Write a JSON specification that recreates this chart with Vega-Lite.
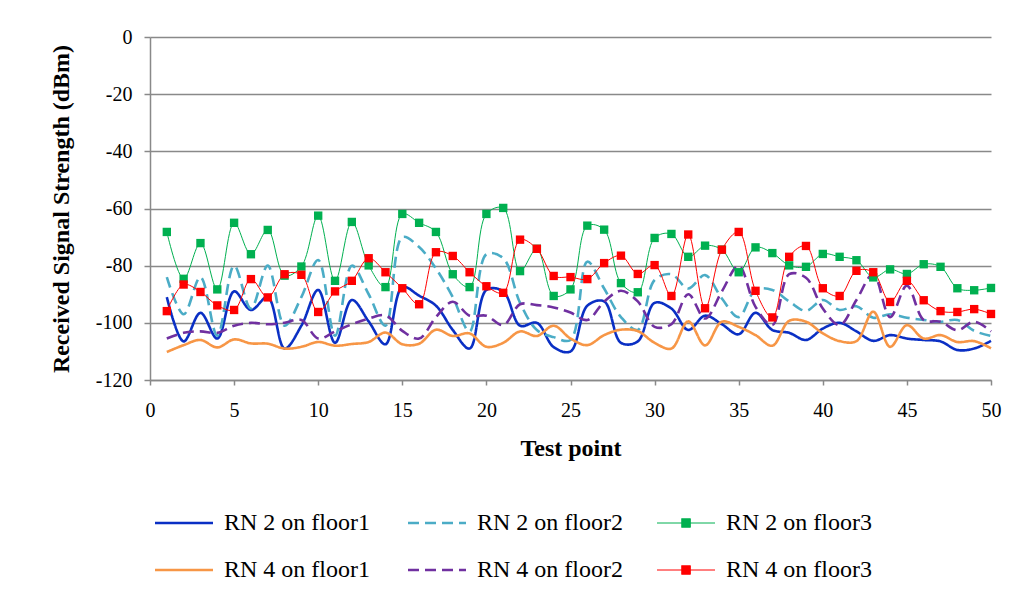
{
"$schema": "https://vega.github.io/schema/vega-lite/v6.json",
"autosize": "none",
"width": 841,
"height": 343,
"padding": {"left": 150, "top": 37, "right": 36, "bottom": 220},
"background": "white",
"config": {"view": {"stroke": null}, "font": "Liberation Serif", "axis": {"labelFont": "Liberation Serif", "titleFont": "Liberation Serif"}, "legend": {"labelFont": "Liberation Serif"}},
"datasets": {"d": [
{"x":1,"s":"RN 2 on floor1","v":-91},{"x":2,"s":"RN 2 on floor1","v":-106.5},{"x":3,"s":"RN 2 on floor1","v":-96.5},{"x":4,"s":"RN 2 on floor1","v":-105.5},{"x":5,"s":"RN 2 on floor1","v":-89},{"x":6,"s":"RN 2 on floor1","v":-95.5},{"x":7,"s":"RN 2 on floor1","v":-91},{"x":8,"s":"RN 2 on floor1","v":-109},{"x":9,"s":"RN 2 on floor1","v":-101},{"x":10,"s":"RN 2 on floor1","v":-88.5},
{"x":11,"s":"RN 2 on floor1","v":-107},{"x":12,"s":"RN 2 on floor1","v":-92},{"x":13,"s":"RN 2 on floor1","v":-99.5},{"x":14,"s":"RN 2 on floor1","v":-107.5},{"x":15,"s":"RN 2 on floor1","v":-87.5},{"x":16,"s":"RN 2 on floor1","v":-90.5},{"x":17,"s":"RN 2 on floor1","v":-94},{"x":18,"s":"RN 2 on floor1","v":-102.5},{"x":19,"s":"RN 2 on floor1","v":-109},{"x":20,"s":"RN 2 on floor1","v":-88.5},
{"x":21,"s":"RN 2 on floor1","v":-89},{"x":22,"s":"RN 2 on floor1","v":-101},{"x":23,"s":"RN 2 on floor1","v":-100},{"x":24,"s":"RN 2 on floor1","v":-108.5},{"x":25,"s":"RN 2 on floor1","v":-110},{"x":26,"s":"RN 2 on floor1","v":-94},{"x":27,"s":"RN 2 on floor1","v":-92.5},{"x":28,"s":"RN 2 on floor1","v":-107},{"x":29,"s":"RN 2 on floor1","v":-106.5},{"x":30,"s":"RN 2 on floor1","v":-93},
{"x":31,"s":"RN 2 on floor1","v":-95},{"x":32,"s":"RN 2 on floor1","v":-102.5},{"x":33,"s":"RN 2 on floor1","v":-97.5},{"x":34,"s":"RN 2 on floor1","v":-100.5},{"x":35,"s":"RN 2 on floor1","v":-104},{"x":36,"s":"RN 2 on floor1","v":-96.5},{"x":37,"s":"RN 2 on floor1","v":-102.5},{"x":38,"s":"RN 2 on floor1","v":-103.5},{"x":39,"s":"RN 2 on floor1","v":-106},{"x":40,"s":"RN 2 on floor1","v":-102},
{"x":41,"s":"RN 2 on floor1","v":-100},{"x":42,"s":"RN 2 on floor1","v":-103},{"x":43,"s":"RN 2 on floor1","v":-106.3},{"x":44,"s":"RN 2 on floor1","v":-104.3},{"x":45,"s":"RN 2 on floor1","v":-105.5},{"x":46,"s":"RN 2 on floor1","v":-106},{"x":47,"s":"RN 2 on floor1","v":-106.5},{"x":48,"s":"RN 2 on floor1","v":-109.5},{"x":49,"s":"RN 2 on floor1","v":-109},{"x":50,"s":"RN 2 on floor1","v":-106.3},
{"x":1,"s":"RN 2 on floor2","v":-84},{"x":2,"s":"RN 2 on floor2","v":-97},{"x":3,"s":"RN 2 on floor2","v":-84},{"x":4,"s":"RN 2 on floor2","v":-104.5},{"x":5,"s":"RN 2 on floor2","v":-80},{"x":6,"s":"RN 2 on floor2","v":-95},{"x":7,"s":"RN 2 on floor2","v":-80},{"x":8,"s":"RN 2 on floor2","v":-101},{"x":9,"s":"RN 2 on floor2","v":-91},{"x":10,"s":"RN 2 on floor2","v":-78},
{"x":11,"s":"RN 2 on floor2","v":-104.5},{"x":12,"s":"RN 2 on floor2","v":-80},{"x":13,"s":"RN 2 on floor2","v":-90},{"x":14,"s":"RN 2 on floor2","v":-101},{"x":15,"s":"RN 2 on floor2","v":-70},{"x":16,"s":"RN 2 on floor2","v":-73.5},{"x":17,"s":"RN 2 on floor2","v":-81},{"x":18,"s":"RN 2 on floor2","v":-91},{"x":19,"s":"RN 2 on floor2","v":-103},{"x":20,"s":"RN 2 on floor2","v":-76},
{"x":21,"s":"RN 2 on floor2","v":-77.4},{"x":22,"s":"RN 2 on floor2","v":-93},{"x":23,"s":"RN 2 on floor2","v":-102.5},{"x":24,"s":"RN 2 on floor2","v":-105},{"x":25,"s":"RN 2 on floor2","v":-106},{"x":26,"s":"RN 2 on floor2","v":-78.6},{"x":27,"s":"RN 2 on floor2","v":-88},{"x":28,"s":"RN 2 on floor2","v":-98},{"x":29,"s":"RN 2 on floor2","v":-102.5},{"x":30,"s":"RN 2 on floor2","v":-85},
{"x":31,"s":"RN 2 on floor2","v":-83},{"x":32,"s":"RN 2 on floor2","v":-88},{"x":33,"s":"RN 2 on floor2","v":-83.3},{"x":34,"s":"RN 2 on floor2","v":-91.5},{"x":35,"s":"RN 2 on floor2","v":-98},{"x":36,"s":"RN 2 on floor2","v":-88.5},{"x":37,"s":"RN 2 on floor2","v":-88.5},{"x":38,"s":"RN 2 on floor2","v":-92.5},{"x":39,"s":"RN 2 on floor2","v":-95.8},{"x":40,"s":"RN 2 on floor2","v":-92},
{"x":41,"s":"RN 2 on floor2","v":-95.5},{"x":42,"s":"RN 2 on floor2","v":-94.2},{"x":43,"s":"RN 2 on floor2","v":-98.2},{"x":44,"s":"RN 2 on floor2","v":-97},{"x":45,"s":"RN 2 on floor2","v":-98.2},{"x":46,"s":"RN 2 on floor2","v":-99},{"x":47,"s":"RN 2 on floor2","v":-99.6},{"x":48,"s":"RN 2 on floor2","v":-99},{"x":49,"s":"RN 2 on floor2","v":-102.8},{"x":50,"s":"RN 2 on floor2","v":-104.6},
{"x":1,"s":"RN 2 on floor3","v":-68.2},{"x":2,"s":"RN 2 on floor3","v":-84.6},{"x":3,"s":"RN 2 on floor3","v":-72.1},{"x":4,"s":"RN 2 on floor3","v":-88.3},{"x":5,"s":"RN 2 on floor3","v":-65},{"x":6,"s":"RN 2 on floor3","v":-76},{"x":7,"s":"RN 2 on floor3","v":-67.5},{"x":8,"s":"RN 2 on floor3","v":-83.5},{"x":9,"s":"RN 2 on floor3","v":-80.3},{"x":10,"s":"RN 2 on floor3","v":-62.5},
{"x":11,"s":"RN 2 on floor3","v":-85.3},{"x":12,"s":"RN 2 on floor3","v":-64.7},{"x":13,"s":"RN 2 on floor3","v":-79.9},{"x":14,"s":"RN 2 on floor3","v":-87.5},{"x":15,"s":"RN 2 on floor3","v":-61.9},{"x":16,"s":"RN 2 on floor3","v":-65},{"x":17,"s":"RN 2 on floor3","v":-68.2},{"x":18,"s":"RN 2 on floor3","v":-83},{"x":19,"s":"RN 2 on floor3","v":-87.5},{"x":20,"s":"RN 2 on floor3","v":-61.9},
{"x":21,"s":"RN 2 on floor3","v":-59.8},{"x":22,"s":"RN 2 on floor3","v":-81.9},{"x":23,"s":"RN 2 on floor3","v":-74.1},{"x":24,"s":"RN 2 on floor3","v":-90.6},{"x":25,"s":"RN 2 on floor3","v":-88.3},{"x":26,"s":"RN 2 on floor3","v":-66},{"x":27,"s":"RN 2 on floor3","v":-67.4},{"x":28,"s":"RN 2 on floor3","v":-86.1},{"x":29,"s":"RN 2 on floor3","v":-89.3},{"x":30,"s":"RN 2 on floor3","v":-70.3},
{"x":31,"s":"RN 2 on floor3","v":-68.9},{"x":32,"s":"RN 2 on floor3","v":-76.9},{"x":33,"s":"RN 2 on floor3","v":-73},{"x":34,"s":"RN 2 on floor3","v":-74.4},{"x":35,"s":"RN 2 on floor3","v":-82.3},{"x":36,"s":"RN 2 on floor3","v":-73.6},{"x":37,"s":"RN 2 on floor3","v":-75.6},{"x":38,"s":"RN 2 on floor3","v":-79.9},{"x":39,"s":"RN 2 on floor3","v":-80.4},{"x":40,"s":"RN 2 on floor3","v":-75.9},
{"x":41,"s":"RN 2 on floor3","v":-76.9},{"x":42,"s":"RN 2 on floor3","v":-78.1},{"x":43,"s":"RN 2 on floor3","v":-84.1},{"x":44,"s":"RN 2 on floor3","v":-81.3},{"x":45,"s":"RN 2 on floor3","v":-82.9},{"x":46,"s":"RN 2 on floor3","v":-79.5},{"x":47,"s":"RN 2 on floor3","v":-80.4},{"x":48,"s":"RN 2 on floor3","v":-87.9},{"x":49,"s":"RN 2 on floor3","v":-88.6},{"x":50,"s":"RN 2 on floor3","v":-87.8},
{"x":1,"s":"RN 4 on floor1","v":-110.2},{"x":2,"s":"RN 4 on floor1","v":-107.8},{"x":3,"s":"RN 4 on floor1","v":-106},{"x":4,"s":"RN 4 on floor1","v":-108.6},{"x":5,"s":"RN 4 on floor1","v":-105.8},{"x":6,"s":"RN 4 on floor1","v":-107.2},{"x":7,"s":"RN 4 on floor1","v":-107.3},{"x":8,"s":"RN 4 on floor1","v":-109},{"x":9,"s":"RN 4 on floor1","v":-108.4},{"x":10,"s":"RN 4 on floor1","v":-106.7},
{"x":11,"s":"RN 4 on floor1","v":-108},{"x":12,"s":"RN 4 on floor1","v":-107.4},{"x":13,"s":"RN 4 on floor1","v":-106.7},{"x":14,"s":"RN 4 on floor1","v":-103.4},{"x":15,"s":"RN 4 on floor1","v":-107.5},{"x":16,"s":"RN 4 on floor1","v":-107.3},{"x":17,"s":"RN 4 on floor1","v":-102.4},{"x":18,"s":"RN 4 on floor1","v":-104.6},{"x":19,"s":"RN 4 on floor1","v":-103.7},{"x":20,"s":"RN 4 on floor1","v":-108.4},
{"x":21,"s":"RN 4 on floor1","v":-107},{"x":22,"s":"RN 4 on floor1","v":-103},{"x":23,"s":"RN 4 on floor1","v":-104.6},{"x":24,"s":"RN 4 on floor1","v":-101},{"x":25,"s":"RN 4 on floor1","v":-105.5},{"x":26,"s":"RN 4 on floor1","v":-107.8},{"x":27,"s":"RN 4 on floor1","v":-104.3},{"x":28,"s":"RN 4 on floor1","v":-102.4},{"x":29,"s":"RN 4 on floor1","v":-102.9},{"x":30,"s":"RN 4 on floor1","v":-107},
{"x":31,"s":"RN 4 on floor1","v":-109},{"x":32,"s":"RN 4 on floor1","v":-99.5},{"x":33,"s":"RN 4 on floor1","v":-107.9},{"x":34,"s":"RN 4 on floor1","v":-99.6},{"x":35,"s":"RN 4 on floor1","v":-101.4},{"x":36,"s":"RN 4 on floor1","v":-104.3},{"x":37,"s":"RN 4 on floor1","v":-108},{"x":38,"s":"RN 4 on floor1","v":-99.3},{"x":39,"s":"RN 4 on floor1","v":-99.6},{"x":40,"s":"RN 4 on floor1","v":-103.7},
{"x":41,"s":"RN 4 on floor1","v":-106.4},{"x":42,"s":"RN 4 on floor1","v":-106.4},{"x":43,"s":"RN 4 on floor1","v":-96.1},{"x":44,"s":"RN 4 on floor1","v":-108.4},{"x":45,"s":"RN 4 on floor1","v":-100.8},{"x":46,"s":"RN 4 on floor1","v":-105.5},{"x":47,"s":"RN 4 on floor1","v":-104.3},{"x":48,"s":"RN 4 on floor1","v":-106.7},{"x":49,"s":"RN 4 on floor1","v":-106.4},{"x":50,"s":"RN 4 on floor1","v":-108.9},
{"x":1,"s":"RN 4 on floor2","v":-105.5},{"x":2,"s":"RN 4 on floor2","v":-103.5},{"x":3,"s":"RN 4 on floor2","v":-103},{"x":4,"s":"RN 4 on floor2","v":-103.5},{"x":5,"s":"RN 4 on floor2","v":-101},{"x":6,"s":"RN 4 on floor2","v":-100},{"x":7,"s":"RN 4 on floor2","v":-100.5},{"x":8,"s":"RN 4 on floor2","v":-100},{"x":9,"s":"RN 4 on floor2","v":-99},{"x":10,"s":"RN 4 on floor2","v":-105.5},
{"x":11,"s":"RN 4 on floor2","v":-103},{"x":12,"s":"RN 4 on floor2","v":-100.5},{"x":13,"s":"RN 4 on floor2","v":-98.5},{"x":14,"s":"RN 4 on floor2","v":-97.4},{"x":15,"s":"RN 4 on floor2","v":-102.8},{"x":16,"s":"RN 4 on floor2","v":-105.5},{"x":17,"s":"RN 4 on floor2","v":-98},{"x":18,"s":"RN 4 on floor2","v":-92.6},{"x":19,"s":"RN 4 on floor2","v":-97.5},{"x":20,"s":"RN 4 on floor2","v":-97.5},
{"x":21,"s":"RN 4 on floor2","v":-100.8},{"x":22,"s":"RN 4 on floor2","v":-93.5},{"x":23,"s":"RN 4 on floor2","v":-93.8},{"x":24,"s":"RN 4 on floor2","v":-94.6},{"x":25,"s":"RN 4 on floor2","v":-96.4},{"x":26,"s":"RN 4 on floor2","v":-99},{"x":27,"s":"RN 4 on floor2","v":-92.6},{"x":28,"s":"RN 4 on floor2","v":-88.8},{"x":29,"s":"RN 4 on floor2","v":-92.5},{"x":30,"s":"RN 4 on floor2","v":-101.4},
{"x":31,"s":"RN 4 on floor2","v":-100.5},{"x":32,"s":"RN 4 on floor2","v":-90},{"x":33,"s":"RN 4 on floor2","v":-98.5},{"x":34,"s":"RN 4 on floor2","v":-89},{"x":35,"s":"RN 4 on floor2","v":-80},{"x":36,"s":"RN 4 on floor2","v":-94.4},{"x":37,"s":"RN 4 on floor2","v":-100.8},{"x":38,"s":"RN 4 on floor2","v":-83},{"x":39,"s":"RN 4 on floor2","v":-84.2},{"x":40,"s":"RN 4 on floor2","v":-95},
{"x":41,"s":"RN 4 on floor2","v":-100.8},{"x":42,"s":"RN 4 on floor2","v":-92},{"x":43,"s":"RN 4 on floor2","v":-83},{"x":44,"s":"RN 4 on floor2","v":-98},{"x":45,"s":"RN 4 on floor2","v":-87},{"x":46,"s":"RN 4 on floor2","v":-99},{"x":47,"s":"RN 4 on floor2","v":-99.6},{"x":48,"s":"RN 4 on floor2","v":-102.6},{"x":49,"s":"RN 4 on floor2","v":-99.6},{"x":50,"s":"RN 4 on floor2","v":-103},
{"x":1,"s":"RN 4 on floor3","v":-95.9},{"x":2,"s":"RN 4 on floor3","v":-86.6},{"x":3,"s":"RN 4 on floor3","v":-89.2},{"x":4,"s":"RN 4 on floor3","v":-93.9},{"x":5,"s":"RN 4 on floor3","v":-95.5},{"x":6,"s":"RN 4 on floor3","v":-84.7},{"x":7,"s":"RN 4 on floor3","v":-91.1},{"x":8,"s":"RN 4 on floor3","v":-83},{"x":9,"s":"RN 4 on floor3","v":-83.2},{"x":10,"s":"RN 4 on floor3","v":-96.2},
{"x":11,"s":"RN 4 on floor3","v":-89},{"x":12,"s":"RN 4 on floor3","v":-85.3},{"x":13,"s":"RN 4 on floor3","v":-77.4},{"x":14,"s":"RN 4 on floor3","v":-82.3},{"x":15,"s":"RN 4 on floor3","v":-87.9},{"x":16,"s":"RN 4 on floor3","v":-93.5},{"x":17,"s":"RN 4 on floor3","v":-75.3},{"x":18,"s":"RN 4 on floor3","v":-76.6},{"x":19,"s":"RN 4 on floor3","v":-82.3},{"x":20,"s":"RN 4 on floor3","v":-87.2},
{"x":21,"s":"RN 4 on floor3","v":-89.5},{"x":22,"s":"RN 4 on floor3","v":-70.9},{"x":23,"s":"RN 4 on floor3","v":-74.1},{"x":24,"s":"RN 4 on floor3","v":-83.6},{"x":25,"s":"RN 4 on floor3","v":-84},{"x":26,"s":"RN 4 on floor3","v":-84.7},{"x":27,"s":"RN 4 on floor3","v":-79.1},{"x":28,"s":"RN 4 on floor3","v":-76.5},{"x":29,"s":"RN 4 on floor3","v":-82.9},{"x":30,"s":"RN 4 on floor3","v":-79.8},
{"x":31,"s":"RN 4 on floor3","v":-90.6},{"x":32,"s":"RN 4 on floor3","v":-69.1},{"x":33,"s":"RN 4 on floor3","v":-94.9},{"x":34,"s":"RN 4 on floor3","v":-74.4},{"x":35,"s":"RN 4 on floor3","v":-68.2},{"x":36,"s":"RN 4 on floor3","v":-88.8},{"x":37,"s":"RN 4 on floor3","v":-98.1},{"x":38,"s":"RN 4 on floor3","v":-76.9},{"x":39,"s":"RN 4 on floor3","v":-73.1},{"x":40,"s":"RN 4 on floor3","v":-87.9},
{"x":41,"s":"RN 4 on floor3","v":-90.6},{"x":42,"s":"RN 4 on floor3","v":-81.8},{"x":43,"s":"RN 4 on floor3","v":-82.3},{"x":44,"s":"RN 4 on floor3","v":-92.7},{"x":45,"s":"RN 4 on floor3","v":-85.3},{"x":46,"s":"RN 4 on floor3","v":-92.1},{"x":47,"s":"RN 4 on floor3","v":-95.9},{"x":48,"s":"RN 4 on floor3","v":-96.2},{"x":49,"s":"RN 4 on floor3","v":-95.2},{"x":50,"s":"RN 4 on floor3","v":-96.9}
]},
"data": {"name": "d"},
"encoding": {
  "x": {"field": "x", "type": "quantitative", "scale": {"domain": [0, 50], "nice": false},
    "axis": {"values": [0,5,10,15,20,25,30,35,40,45,50], "title": "Test point", "grid": false,
      "labelFont": "Liberation Serif", "labelFontSize": 20, "labelColor": "black", "labelPadding": 15, "labelFlush": false, "labelOverlap": false,
      "tickSize": 5, "tickColor": "#898989", "tickWidth": 1.5, "domainColor": "#898989", "domainWidth": 1.5,
      "titleFont": "Liberation Serif", "titleFontSize": 24, "titleFontWeight": "bold", "titleColor": "black", "titlePadding": 16}},
  "y": {"field": "v", "type": "quantitative", "scale": {"domain": [-120, 0], "nice": false},
    "axis": {"values": [-120,-100,-80,-60,-40,-20,0], "title": "Received Signal Strength (dBm)", "grid": true, "gridColor": "#898989", "gridWidth": 1.5,
      "labelExpr": "'' + datum.value",
      "labelFont": "Liberation Serif", "labelFontSize": 20, "labelColor": "black", "labelPadding": 12, "labelFlush": false, "labelOverlap": false,
      "tickSize": 6, "tickColor": "#898989", "tickWidth": 1.5, "domainColor": "#898989", "domainWidth": 1.5,
      "titleFont": "Liberation Serif", "titleFontSize": 24, "titleFontWeight": "bold", "titleColor": "black", "titlePadding": 22}}
},
"layer": [
  {"transform": [{"filter": {"field": "s", "oneOf": ["RN 2 on floor1","RN 2 on floor2","RN 4 on floor1","RN 4 on floor2"]}}],
   "mark": {"type": "line", "interpolate": "catmull-rom", "strokeWidth": 2.6},
   "encoding": {
     "color": {"field": "s", "type": "nominal",
       "scale": {"domain": ["RN 2 on floor1","RN 2 on floor2","RN 2 on floor3","RN 4 on floor1","RN 4 on floor2","RN 4 on floor3"],
                 "range": ["#0A2FC4","#4BACC6","#00B050","#F79646","#7030A0","#FF0000"]},
       "legend": {"orient": "none", "legendX": 22, "legendY": 474, "columns": 3, "direction": "horizontal", "title": null,
         "labelFont": "Liberation Serif", "labelFontSize": 24, "labelColor": "black", "labelOffset": 28,
         "symbolSize": 3364, "columnPadding": 32, "rowPadding": 23, "labelLimit": 400,
         "encode": {"symbols": {"update": {
           "shape": {"signal": "indexof(['RN 2 on floor3','RN 4 on floor3'], datum.value) >= 0 ? 'M-1,0H1M-0.15,-0.15H0.15V0.15H-0.15Z' : 'M-1,0H1'"},
           "strokeDash": {"signal": "indexof(['RN 2 on floor2','RN 4 on floor2'], datum.value) >= 0 ? [11,6] : [1,0]"},
           "strokeWidth": {"signal": "indexof(['RN 2 on floor3','RN 4 on floor3'], datum.value) >= 0 ? 1 : 2.6"},
           "fill": {"signal": "indexof(['RN 2 on floor3','RN 4 on floor3'], datum.value) >= 0 ? scale('color', datum.value) : 'transparent'"},
           "stroke": {"signal": "scale('color', datum.value)"},
           "opacity": {"value": 1}
         }}}}},
     "strokeDash": {"field": "s", "type": "nominal",
       "scale": {"domain": ["RN 2 on floor1","RN 2 on floor2","RN 4 on floor1","RN 4 on floor2"], "range": [[1,0],[11,6],[1,0],[11,6]]},
       "legend": null}
   }},
  {"transform": [{"filter": {"field": "s", "oneOf": ["RN 2 on floor3","RN 4 on floor3"]}}],
   "mark": {"type": "line", "interpolate": "catmull-rom", "strokeWidth": 1},
   "encoding": {"color": {"field": "s", "type": "nominal"}}},
  {"transform": [{"filter": {"field": "s", "oneOf": ["RN 2 on floor3","RN 4 on floor3"]}}],
   "mark": {"type": "point", "shape": "square", "filled": true, "size": 70, "opacity": 1},
   "encoding": {"color": {"field": "s", "type": "nominal"}}}
]
}
